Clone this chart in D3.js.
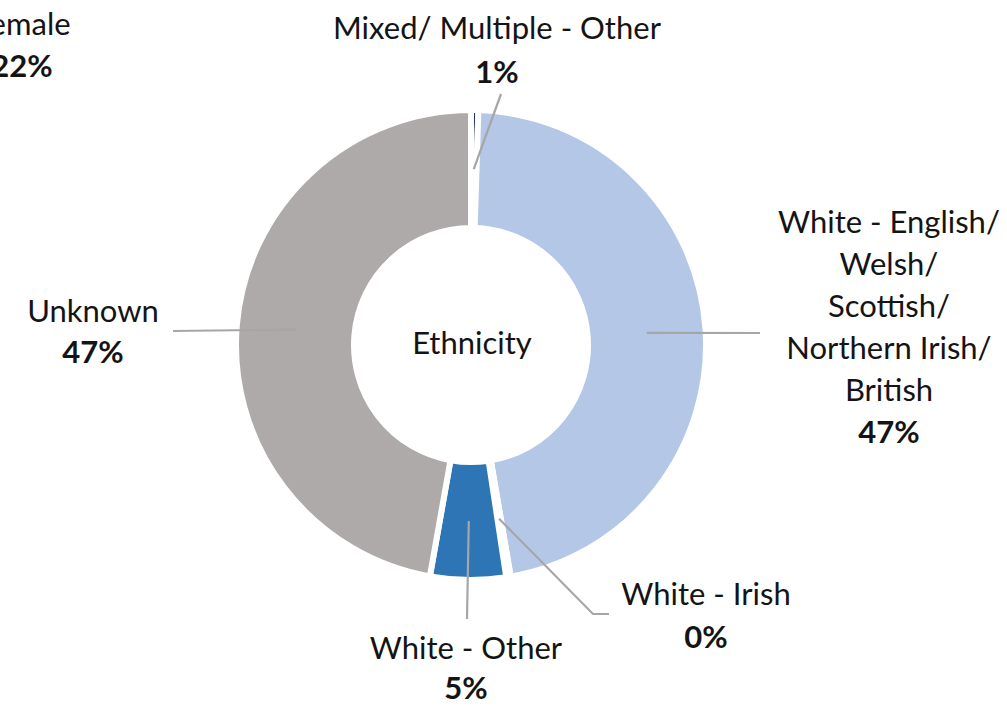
<!DOCTYPE html>
<html>
<head>
<meta charset="utf-8">
<script src="https://cdn.jsdelivr.net/npm/d3@7"></script>
<style>
  html, body { margin: 0; padding: 0; background: #fff; }
  svg { display: block; }
  text { font-family: Lato, "Open Sans", sans-serif; fill: #141414; }
</style>
</head>
<body>
<svg id="chart" width="1007" height="707"></svg>
<script>
// ---- data ----
const categories = [
  "Mixed/ Multiple - Other",
  "White - English/ Welsh/ Scottish/ Northern Irish/ British",
  "White - Irish",
  "White - Other",
  "Unknown"
];
const categoryLines = [
  ["Mixed/ Multiple - Other"],
  ["White - English/", "Welsh/", "Scottish/", "Northern Irish/", "British"],
  ["White - Irish"],
  ["White - Other"],
  ["Unknown"]
];
const values = [0.5, 46.8, 0.3, 5.2, 47.2];
const colors = ["#203864", "#B4C7E7", "#8FAADC", "#2E75B6", "#AEAAAA"];
const centerTitle = "Ethnicity";
// partially visible label from neighbouring chart
const neighbourLabel = ["Female"];
const neighbourValue = 22;

// ---- layout ----
const cx = 471, cy = 345;
const outerR = 235, innerR = 117;
const fontSize = 31, lineH = 42;
// label anchor (center x, first baseline) and leader-line end points
const labelPos = [
  {x: 497, y: 39, lh: 44, path: [[501, 94]]},
  {x: 889, y: 233, lh: 42, path: [[760, 333]]},
  {x: 706, y: 605, lh: 43, path: [[593, 614], [609, 614]]},
  {x: 466, y: 659, lh: 40, path: [[467, 619]]},
  {x: 93,  y: 322, lh: 41, path: [[173, 331]]}
];

const svg = d3.select("#chart");
const g = svg.append("g").attr("transform", `translate(${cx},${cy})`);

const pie = d3.pie().sort(null).value(d => d)(values);
const arc = d3.arc().innerRadius(innerR).outerRadius(outerR);
const midArc = d3.arc().innerRadius((innerR + outerR) / 2).outerRadius((innerR + outerR) / 2);

g.selectAll("path.slice")
  .data(pie)
  .join("path")
  .attr("class", "slice")
  .attr("d", arc)
  .attr("fill", (d, i) => colors[i])
  .attr("stroke", "#fff")
  .attr("stroke-width", 6)
  .attr("stroke-linejoin", "miter");

// leader lines
const line = d3.line();
pie.forEach((d, i) => {
  const c = midArc.centroid(d);
  const pts = [[c[0] + cx, c[1] + cy]].concat(labelPos[i].path);
  svg.append("path")
    .attr("d", line(pts))
    .attr("fill", "none")
    .attr("stroke", "#A6A6A6")
    .attr("stroke-width", 2.2);
});

// labels
pie.forEach((d, i) => {
  const lp = labelPos[i];
  const t = svg.append("text")
    .attr("text-anchor", "middle")
    .attr("font-size", fontSize);
  const lines = categoryLines[i];
  lines.forEach((ln, k) => {
    t.append("tspan").attr("x", lp.x).attr("y", lp.y + k * lp.lh).text(ln);
  });
  t.append("tspan")
    .attr("x", lp.x)
    .attr("y", lp.y + lines.length * lp.lh)
    .attr("font-weight", "bold")
    .text(Math.round(values[i]) + "%");
});

// centre title
svg.append("text")
  .attr("x", cx + 1).attr("y", 354)
  .attr("text-anchor", "middle")
  .attr("font-size", fontSize)
  .text(centerTitle);

// neighbouring chart's clipped label
const nt = svg.append("text").attr("text-anchor", "middle").attr("font-size", fontSize);
nt.append("tspan").attr("x", 22).attr("y", 35).text(neighbourLabel[0]);
nt.append("tspan").attr("x", 22).attr("y", 77).attr("font-weight", "bold").text(neighbourValue + "%");
</script>
</body>
</html>
